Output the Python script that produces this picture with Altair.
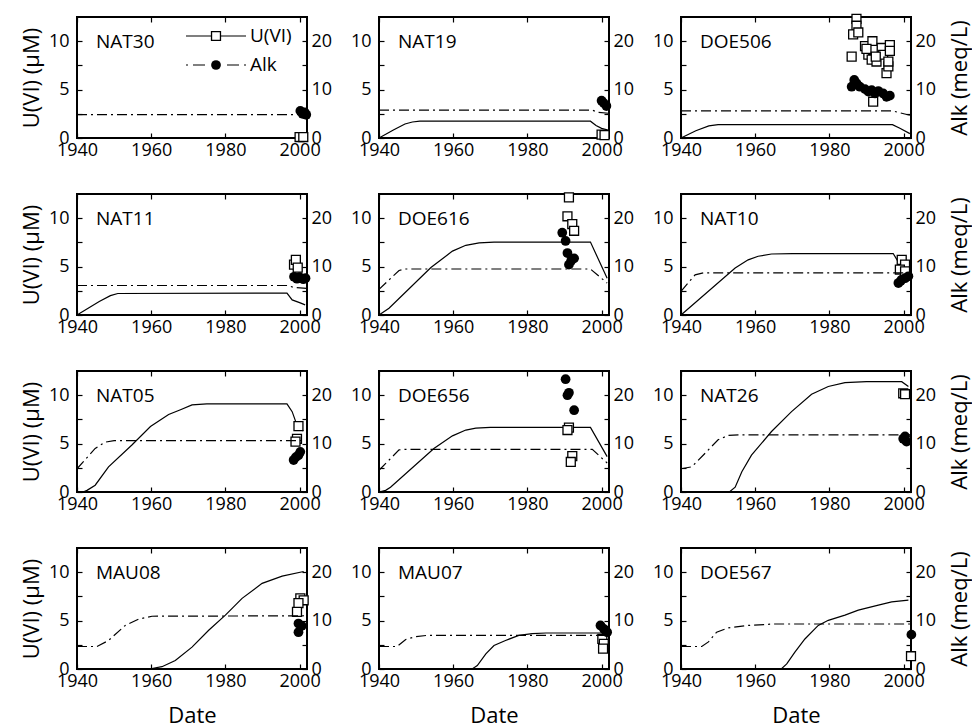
import altair as alt
import pandas as pd

SITES = ["NAT30", "NAT19", "DOE506", "NAT11", "DOE616", "NAT10",
         "NAT05", "DOE656", "NAT26", "MAU08", "MAU07", "DOE567"]
XTICKS = [1940, 1960, 1980, 2000]
U_TICKS = [0, 2.5, 5, 7.5, 10]
ALK_TICKS = [0, 5, 10, 15, 20]
LEGEND_LABELS = ["U(VI)", "Alk"]

# ---------------- NAT30 ----------------
nat30_mu_yr = [1940, 2002]
nat30_mu = [0.0, 0.0]
nat30_ma_yr = [1940, 2002]
nat30_ma = [4.85, 4.85]
nat30_ou_yr = [2000, 2001]
nat30_ou = [0.1, 0.1]
nat30_oa_yr = [2000.2, 2000.8, 2001.4, 2001.8]
nat30_oa = [5.6, 5.0, 5.3, 4.8]
# ---------------- NAT19 ----------------
nat19_mu_yr = [1940, 1944, 1947, 1949, 1951, 1997, 1998.5, 2000, 2002]
nat19_mu = [0, 0.85, 1.45, 1.65, 1.74, 1.74, 1.3, 1.0, 0.8]
nat19_ma_yr = [1940, 1997.5, 1999, 2002]
nat19_ma = [5.75, 5.75, 5.3, 5.1]
nat19_ou_yr = [2000, 2000.8]
nat19_ou = [0.35, 0.3]
nat19_oa_yr = [2000, 2000.6, 2001.3]
nat19_oa = [7.7, 7.2, 6.6]
# ---------------- DOE506 ----------------
doe506_mu_yr = [1940, 1944, 1947.5, 1950, 1997, 1999, 2001.7]
doe506_mu = [0, 0.75, 1.25, 1.38, 1.38, 1.0, 0.45]
doe506_ma_yr = [1940, 1997, 2001.7]
doe506_ma = [5.6, 5.6, 4.7]
doe506_ou_yr = [1987.3, 1987.3, 1986.4, 1987.8, 1986.0, 1989.6, 1990.5, 1991.4, 1991.6,
                1991.8, 1992.7, 1994.1, 1994.5, 1995.4, 1995.9, 1995.9, 1996.3, 1996.3,
                1991.8, 1990.0, 1992.5]
doe506_ou = [12.3, 11.6, 10.7, 10.9, 8.4, 9.5, 8.6, 8.1, 10.0,
             9.1, 7.9, 9.3, 8.6, 6.7, 7.4, 7.9, 9.6, 9.0,
             3.75, 9.2, 8.4]
doe506_oa_yr = [1986.7, 1986.0, 1987.3, 1988.2, 1989.6, 1990.5, 1991.4, 1992.3, 1993.2,
                1994.5, 1995.4, 1996.3]
doe506_oa = [12.0, 10.6, 11.3, 10.6, 10.1, 9.6, 9.9, 9.2, 9.7, 9.2, 8.5, 8.75]
# ---------------- NAT11 ----------------
nat11_mu_yr = [1940, 1946, 1949, 1951, 1996.6, 1998, 2000, 2001.5]
nat11_mu = [0, 1.4, 2.0, 2.22, 2.26, 1.56, 1.28, 1.05]
nat11_ma_yr = [1940, 1996.6, 1998.5, 2002]
nat11_ma = [6.1, 6.1, 5.7, 5.5]
nat11_ou_yr = [1998.5, 1999.0, 1999.5]
nat11_ou = [5.2, 5.7, 4.9]
nat11_oa_yr = [1998.5, 1999.3, 2000, 2001, 2001.6]
nat11_oa = [7.9, 7.5, 7.8, 7.4, 7.6]
# ---------------- DOE616 ----------------
doe616_mu_yr = [1940, 1942.7, 1954, 1959.8, 1963.4, 1967, 1971, 1997, 2001.5]
doe616_mu = [0, 0.7, 4.9, 6.6, 7.2, 7.45, 7.53, 7.53, 3.8]
doe616_ma_yr = [1940, 1945.4, 1947, 1997, 2001.5]
doe616_ma = [5.3, 9.2, 9.5, 9.5, 6.6]
doe616_ou_yr = [1991.2, 1990.8, 1992.1, 1992.6]
doe616_ou = [12.15, 10.2, 9.4, 8.7]
doe616_oa_yr = [1989.4, 1990.3, 1990.8, 1992.6, 1991.2, 1991.8]
doe616_oa = [17.0, 15.3, 12.8, 11.7, 10.4, 11.2]
# ---------------- NAT10 ----------------
nat10_mu_yr = [1940, 1954.6, 1958.1, 1960.8, 1964.4, 1970, 1997.2, 1999.5, 2001.5]
nat10_mu = [0, 4.86, 5.7, 6.07, 6.3, 6.35, 6.35, 4.9, 4.0]
nat10_ma_yr = [1940, 1943.8, 1946, 2002]
nat10_ma = [4.9, 8.3, 8.7, 8.7]
nat10_ou_yr = [1999.5, 2000.4, 1999.0, 2000.4]
nat10_ou = [5.7, 5.2, 4.7, 4.5]
nat10_oa_yr = [1998.6, 1999.5, 2000.4, 2001.3, 1999.2]
nat10_oa = [6.6, 7.3, 7.6, 8.0, 7.0]
# ---------------- NAT05 ----------------
nat05_mu_yr = [1940, 1941.8, 1942.7, 1944.9, 1948.5, 1954.8, 1959.8, 1964.7, 1967.9, 1971,
               1975, 1996.6, 1998, 1999.3, 2001]
nat05_mu = [0, 0.02, 0.17, 0.7, 2.6, 4.86, 6.77, 8.0, 8.5, 9.0, 9.1, 9.1, 8.3, 6.9, 6.3]
nat05_ma_yr = [1940, 1944.9, 1947.6, 1950, 2002]
nat05_ma = [4.8, 9.0, 10.3, 10.6, 10.6]
nat05_ou_yr = [1999.7, 1999.3, 1998.9]
nat05_ou = [6.8, 5.5, 5.2]
nat05_oa_yr = [1998.4, 1999.7, 2000.2, 1999.0]
nat05_oa = [6.6, 7.6, 8.3, 7.2]
# ---------------- DOE656 ----------------
doe656_mu_yr = [1940, 1941.8, 1943.1, 1954.8, 1959.8, 1963.4, 1966.1, 1970, 1997, 2001.5]
doe656_mu = [0, 0.17, 0.5, 4.5, 5.8, 6.4, 6.6, 6.67, 6.67, 3.65]
doe656_ma_yr = [1940, 1945.4, 1947, 1997.5, 2001.5]
doe656_ma = [4.5, 8.7, 8.8, 8.8, 6.0]
doe656_ou_yr = [1991.2, 1990.8, 1992.1, 1991.7]
doe656_ou = [6.65, 6.4, 3.7, 3.1]
doe656_oa_yr = [1990.3, 1991.2, 1990.8, 1992.6]
doe656_oa = [23.3, 20.5, 20.0, 16.9]
# ---------------- NAT26 ----------------
nat26_mu_yr = [1940, 1953.2, 1954.6, 1956.4, 1959, 1964.4, 1969.8, 1975.2, 1979.7, 1984.2,
               1990, 1999.5, 2001.3]
nat26_mu = [0, 0.05, 0.5, 2.1, 3.8, 6.25, 8.3, 10.1, 10.9, 11.3, 11.4, 11.4, 10.9]
nat26_ma_yr = [1940, 1942.9, 1946.5, 1950, 1952.8, 1956, 2002]
nat26_ma = [4.8, 5.2, 8.0, 10.8, 11.7, 11.8, 11.8]
nat26_ou_yr = [1999.9, 2000.4]
nat26_ou = [10.2, 10.1]
nat26_oa_yr = [2000.4, 2000.8, 1999.9]
nat26_oa = [11.5, 10.4, 11.0]
# ---------------- MAU08 ----------------
mau08_mu_yr = [1940, 1960.2, 1962.9, 1966.5, 1971, 1975.5, 1980, 1984.5, 1989.9, 1995.3, 2001.1]
mau08_mu = [0, 0.05, 0.24, 0.87, 2.26, 4.0, 5.56, 7.3, 8.85, 9.6, 10.07]
mau08_ma_yr = [1940, 1945.4, 1948.5, 1953, 1956.6, 1960.2, 2002]
mau08_ma = [4.65, 4.65, 5.9, 9.0, 10.3, 10.9, 11.0]
mau08_ou_yr = [2000.2, 2001.1, 1999.7, 1999.3]
mau08_ou = [7.3, 7.1, 6.8, 5.9]
mau08_oa_yr = [1999.7, 2000.6, 1999.7]
mau08_oa = [9.4, 8.9, 7.6]
# ---------------- MAU07 ----------------
mau07_mu_yr = [1940, 1965.2, 1966.5, 1968.8, 1971, 1974.1, 1977.7, 1981.3, 1985, 2002]
mau07_mu = [0, 0.03, 0.35, 1.56, 2.43, 2.95, 3.47, 3.65, 3.72, 3.72]
mau07_ma_yr = [1940, 1944.9, 1947.2, 1949.9, 1953, 2002]
mau07_ma = [4.65, 4.65, 6.1, 6.7, 6.95, 6.95]
mau07_ou_yr = [2000.2, 2000.6, 2000.4]
mau07_ou = [3.1, 2.6, 2.1]
mau07_oa_yr = [1999.7, 2000.6, 2001.5, 2001.0]
mau07_oa = [9.0, 8.3, 7.6, 8.0]
# ---------------- DOE567 ----------------
doe567_mu_yr = [1940, 1967.1, 1968.5, 1970.7, 1973.4, 1977, 1979.7, 1984.2, 1987.8, 1993.2,
                1996.8, 2001.3]
doe567_mu = [0, 0.03, 0.52, 1.74, 3.1, 4.5, 5.03, 5.56, 6.08, 6.6, 6.94, 7.12]
doe567_ma_yr = [1940, 1945.6, 1947.4, 1949.6, 1952.8, 1958.1, 1965, 2002]
doe567_ma = [4.65, 4.65, 5.6, 7.6, 8.5, 9.0, 9.3, 9.3]
doe567_ou_yr = [2002]
doe567_ou = [1.32]
doe567_oa_yr = [2002.1]
doe567_oa = [7.1]

DATA = {
    "NAT30": (nat30_mu_yr, nat30_mu, nat30_ma_yr, nat30_ma, nat30_ou_yr, nat30_ou, nat30_oa_yr, nat30_oa),
    "NAT19": (nat19_mu_yr, nat19_mu, nat19_ma_yr, nat19_ma, nat19_ou_yr, nat19_ou, nat19_oa_yr, nat19_oa),
    "DOE506": (doe506_mu_yr, doe506_mu, doe506_ma_yr, doe506_ma, doe506_ou_yr, doe506_ou, doe506_oa_yr, doe506_oa),
    "NAT11": (nat11_mu_yr, nat11_mu, nat11_ma_yr, nat11_ma, nat11_ou_yr, nat11_ou, nat11_oa_yr, nat11_oa),
    "DOE616": (doe616_mu_yr, doe616_mu, doe616_ma_yr, doe616_ma, doe616_ou_yr, doe616_ou, doe616_oa_yr, doe616_oa),
    "NAT10": (nat10_mu_yr, nat10_mu, nat10_ma_yr, nat10_ma, nat10_ou_yr, nat10_ou, nat10_oa_yr, nat10_oa),
    "NAT05": (nat05_mu_yr, nat05_mu, nat05_ma_yr, nat05_ma, nat05_ou_yr, nat05_ou, nat05_oa_yr, nat05_oa),
    "DOE656": (doe656_mu_yr, doe656_mu, doe656_ma_yr, doe656_ma, doe656_ou_yr, doe656_ou, doe656_oa_yr, doe656_oa),
    "NAT26": (nat26_mu_yr, nat26_mu, nat26_ma_yr, nat26_ma, nat26_ou_yr, nat26_ou, nat26_oa_yr, nat26_oa),
    "MAU08": (mau08_mu_yr, mau08_mu, mau08_ma_yr, mau08_ma, mau08_ou_yr, mau08_ou, mau08_oa_yr, mau08_oa),
    "MAU07": (mau07_mu_yr, mau07_mu, mau07_ma_yr, mau07_ma, mau07_ou_yr, mau07_ou, mau07_oa_yr, mau07_oa),
    "DOE567": (doe567_mu_yr, doe567_mu, doe567_ma_yr, doe567_ma, doe567_ou_yr, doe567_ou, doe567_oa_yr, doe567_oa),
}

FONT = "Open Sans"
W, H = 230, 121
DASHDOT = [10, 4, 2, 4]


def legend_layers():
    """Hand-drawn legend (line + marker + label) in the first panel."""
    du = pd.DataFrame({"series": [LEGEND_LABELS[0]]})
    da = pd.DataFrame({"series": [LEGEND_LABELS[1]]})
    ys = {"u": 19, "a": 48}
    x0, x1, xm, xl = 109, 169, 139, 173
    u_rule = alt.Chart(du).mark_rule(color="black", strokeWidth=1.2).encode(
        x=alt.value(x0), x2=alt.value(x1), y=alt.value(ys["u"]))
    u_sym = alt.Chart(du).mark_point(shape="square", size=80, filled=True, fill="white",
                                     stroke="black", strokeWidth=1.3, opacity=1).encode(
        x=alt.value(xm), y=alt.value(ys["u"]))
    u_txt = alt.Chart(du).mark_text(align="left", baseline="middle", font=FONT, fontSize=19,
                                    color="black").encode(
        x=alt.value(xl), y=alt.value(ys["u"]), text="series:N")
    a_rule = alt.Chart(da).mark_rule(color="black", strokeWidth=1.2,
                                     strokeDash=[2, 5, 12, 22, 12, 5, 2]).encode(
        x=alt.value(x0), x2=alt.value(x1), y=alt.value(ys["a"]))
    a_sym = alt.Chart(da).mark_circle(size=95, color="black", opacity=1).encode(
        x=alt.value(xm), y=alt.value(ys["a"]))
    a_txt = alt.Chart(da).mark_text(align="left", baseline="middle", font=FONT, fontSize=19,
                                    color="black").encode(
        x=alt.value(xl), y=alt.value(ys["a"]), text="series:N")
    return [u_rule, u_sym, u_txt, a_rule, a_sym, a_txt]


def panel(i, site):
    r, c = divmod(i, 3)
    mu_yr, mu, ma_yr, ma, ou_yr, ou, oa_yr, oa = DATA[site]
    df_mu = pd.DataFrame({"year": mu_yr, "u": mu})
    df_ma = pd.DataFrame({"year": ma_yr, "alk": ma})
    df_ou = pd.DataFrame({"year": ou_yr, "u": ou})
    df_oa = pd.DataFrame({"year": oa_yr, "alk": oa})

    xs = alt.Scale(domain=[1940, 2002], nice=False, zero=False)
    ys_u = alt.Scale(domain=[0, 12.5], nice=False, zero=False)
    ys_a = alt.Scale(domain=[0, 25], nice=False, zero=False)

    bot_kw = dict(orient="bottom", values=XTICKS, format="d", labelFlush=False,
                  labelOverlap=False, tickSize=5, offset=-5, domain=False, labelPadding=3)
    if r == 3:
        bot_kw.update(title="Date", titlePadding=15)
    else:
        bot_kw.update(title=None)
    x_bot = alt.Axis(**bot_kw)
    x_top = alt.Axis(orient="top", values=XTICKS, labels=False, tickSize=5, offset=-5,
                     domain=False, title=None)

    left_kw = dict(orient="left", values=U_TICKS,
                   labelExpr="datum.value % 5 == 0 ? '' + datum.value : ''",
                   labelOverlap=False, tickSize=5, offset=-5, domain=False, labelPadding=8)
    if c == 0:
        left_kw.update(title="U(VI) (\u03bcM)", titlePadding=5)
    else:
        left_kw.update(title=None)
    y_left = alt.Axis(**left_kw)

    right_kw = dict(orient="right", values=ALK_TICKS,
                    labelExpr="datum.value % 10 == 0 ? '' + datum.value : ''",
                    labelOverlap=False, tickSize=5, offset=-5, domain=False, labelPadding=4)
    if c == 2:
        right_kw.update(title="Alk (meq/L)", titleAngle=270, titleBaseline="top",
                        titlePadding=14)
    else:
        right_kw.update(title=None)
    y_right = alt.Axis(**right_kw)

    u_line = alt.Chart(df_mu).mark_line(color="black", strokeWidth=1.2).encode(
        x=alt.X("year:Q", scale=xs, axis=x_bot),
        y=alt.Y("u:Q", scale=ys_u, axis=y_left))
    u_pts = alt.Chart(df_ou).mark_point(shape="square", size=80, filled=True, fill="white",
                                        stroke="black", strokeWidth=1.3, opacity=1).encode(
        x=alt.X("year:Q", scale=xs, axis=x_bot),
        y=alt.Y("u:Q", scale=ys_u, axis=y_left))
    label = alt.Chart(pd.DataFrame({"site": [site]})).mark_text(
        align="left", baseline="middle", font=FONT, fontSize=19, color="black").encode(
        x=alt.value(19), y=alt.value(25), text="site:N")

    a_line = alt.Chart(df_ma).mark_line(color="black", strokeWidth=1.2,
                                        strokeDash=DASHDOT).encode(
        x=alt.X("year:Q", scale=xs, axis=x_top),
        y=alt.Y("alk:Q", scale=ys_a, axis=y_right))
    a_pts = alt.Chart(df_oa).mark_circle(size=95, color="black", opacity=1).encode(
        x=alt.X("year:Q", scale=xs, axis=x_top),
        y=alt.Y("alk:Q", scale=ys_a, axis=y_right))

    a_layers = [u_line, u_pts, label]
    if i == 0:
        a_layers += legend_layers()
    layer_a = alt.layer(*a_layers)
    layer_b = alt.layer(a_line, a_pts)

    return alt.layer(layer_a, layer_b).resolve_scale(y="independent").resolve_axis(
        x="independent").properties(width=W, height=H)


panels = [panel(i, s) for i, s in enumerate(SITES)]

chart = alt.concat(*panels, columns=3, spacing={"row": 56, "column": 72},
                   bounds="flush").properties(
    padding={"left": 19, "top": 10, "right": 0, "bottom": 0}
).configure_view(stroke="black", strokeWidth=2).configure_axis(
    grid=False, labelFont=FONT, labelFontSize=18, titleFont=FONT, titleFontSize=22,
    titleFontWeight="normal", labelColor="black", titleColor="black", tickColor="black",
    tickWidth=1.2
)

chart.save("out.html", embed_options={"renderer": "svg", "actions": False})
